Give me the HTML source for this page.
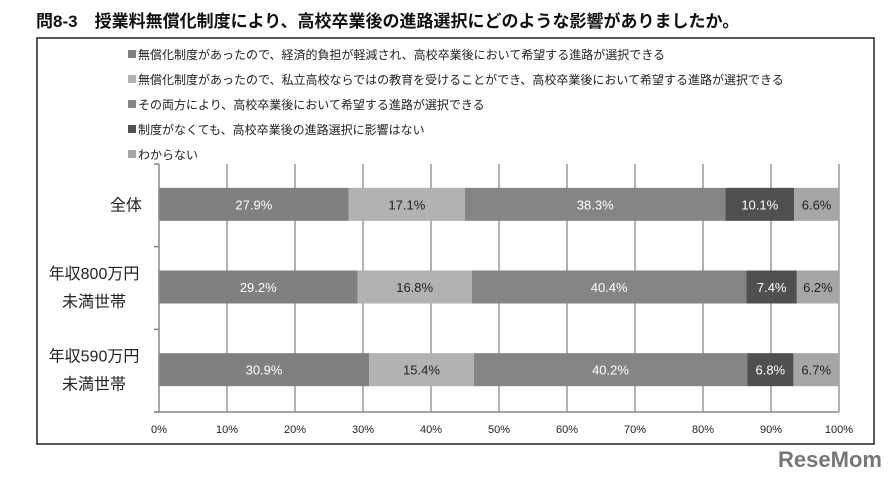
<!DOCTYPE html>
<html><head><meta charset="utf-8"><style>
body{margin:0;background:#fff;font-family:"Liberation Sans","Noto Sans CJK JP",sans-serif}
#wrap{position:relative;width:892px;height:479px;overflow:hidden}
</style></head><body>
<div id="wrap">
<svg id="svg" width="892" height="479" style="position:absolute;left:0;top:0">
<text x="36" y="27" font-size="17" font-weight="bold" fill="#111" font-family="Liberation Sans,Noto Sans CJK JP,sans-serif">問8-3　授業料無償化制度により、高校卒業後の進路選択にどのような影響がありましたか。</text>
<rect x="37" y="38" width="837" height="406" fill="none" stroke="#222" stroke-width="1.5"/>
<g id="legend"></g>
<g id="grid"></g>
<g id="bars"></g>
<g id="axes"></g>
<text x="830" y="467" font-size="22" font-weight="bold" fill="#777" font-family="Liberation Sans,sans-serif" text-anchor="middle">ReseMom</text>
</svg>
</div>
<script>
const categories=["全体","年収800万円\n未満世帯","年収590万円\n未満世帯"];
const seriesNames=["無償化制度があったので、経済的負担が軽減され、高校卒業後において希望する進路が選択できる","無償化制度があったので、私立高校ならではの教育を受けることができ、高校卒業後において希望する進路が選択できる","その両方により、高校卒業後において希望する進路が選択できる","制度がなくても、高校卒業後の進路選択に影響はない","わからない"];
const s1=[27.9,29.2,30.9];
const s2=[17.1,16.8,15.4];
const s3=[38.3,40.4,40.2];
const s4=[10.1,7.4,6.8];
const s5=[6.6,6.2,6.7];
const ticks=[0,10,20,30,40,50,60,70,80,90,100];
const series=[s1,s2,s3,s4,s5];
const colors=["#808080","#b2b2b2","#858585","#505050","#a6a6a6"];
const labelColors=["#fff","#222","#fff","#fff","#222"];
const NS="http://www.w3.org/2000/svg";
const F="Liberation Sans,Noto Sans CJK JP,sans-serif";
const X0=159,X1=839,YT=164,YB=412;
const x=v=>X0+(X1-X0)*v/100;
const band=(YB-YT)/categories.length;
const yc=i=>YT+band*(i+0.5)-1;
const BH=33;
function mk(t,a,p){const e=document.createElementNS(NS,t);for(const k in a)e.setAttribute(k,a[k]);p.appendChild(e);return e;}
const lg=document.getElementById('legend');
seriesNames.forEach((n,i)=>{const y=55+i*25;
 const r=mk('rect',{x:128,y:y-5,width:8,height:8,fill:colors[i]},lg);
 
 
 const t=mk('text',{x:138,y:y+4,'font-size':12,fill:'#222','font-family':F},lg);t.textContent=n;
 
 
});
const g=document.getElementById('grid');
ticks.forEach(v=>{if(v===0)return;const l=mk('line',{x1:x(v),x2:x(v),y1:YT,y2:YB,stroke:'#999','stroke-width':1.5},g);
 
 });
const b=document.getElementById('bars');
categories.forEach((c,i)=>{let acc=0;
 series.forEach((s,j)=>{const v=s[i];
  const r=mk('rect',{x:x(acc),y:yc(i)-BH/2,width:x(acc+v)-x(acc),height:BH,fill:colors[j]},b);
  
  
  const t=mk('text',{x:(x(acc)+x(acc+v))/2,y:yc(i)+5,'font-size':13,fill:labelColors[j],'text-anchor':'middle','font-family':F},b);
  t.textContent=v.toFixed(1)+'%';
  
  
  acc+=v;});
 const lines=c.split('\n');
 lines.forEach((ln,k)=>{const two=lines.length>1;
  const t=mk('text',{x:two?94:142,y:yc(i)+6+(two?(k===0?-14:14):0),'font-size':16,fill:'#222','text-anchor':two?'middle':'end','font-family':F},b);
  t.textContent=ln;
  
  });
});
const ax=document.getElementById('axes');
const ya=mk('line',{x1:X0,x2:X0,y1:YT,y2:YB,stroke:'#888','stroke-width':1.5},ax);

const xa=mk('line',{x1:X0-5,x2:X1,y1:YB,y2:YB,stroke:'#888','stroke-width':1.5},ax);

for(let i=0;i<=categories.length;i++){const l=mk('line',{x1:X0-5,x2:X0,y1:YT+band*i,y2:YT+band*i,stroke:'#888','stroke-width':1.5},ax);
 }
ticks.forEach(v=>{const t=mk('text',{x:x(v),y:433,'font-size':11,fill:'#222','text-anchor':'middle','font-family':F},ax);
 t.textContent=v+'%';
 
 });
</script>
</body></html>
